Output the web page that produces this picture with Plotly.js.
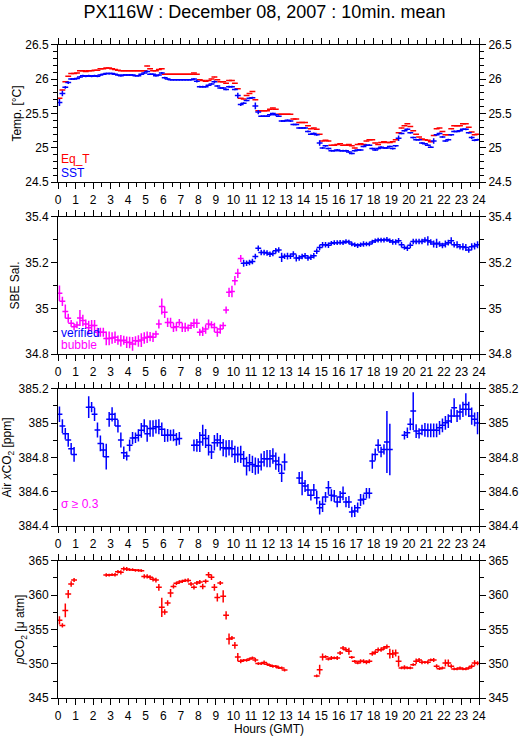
<!DOCTYPE html>
<html>
<head>
<meta charset="utf-8">
<script src="https://cdn.plot.ly/plotly-3.0.1.min.js"></script>
<style>html,body{margin:0;padding:0;background:#fff;}#chart{width:529px;height:739px;}</style>
</head>
<body>
<div id="chart"></div>
<script>
// 10-minute means, centred on each interval (hours GMT)
const hours = Array.from({length: 144}, (_, i) => (i + 0.5) / 6);
const barHalfWidth = 1 / 6;

// Panel 1: temperatures
const eqT = [
25.72,25.84,25.96,26.04,26.08,26.08,26.09,26.12,26.12,26.11,
26.12,26.12,26.13,26.13,26.15,26.15,26.16,26.16,26.15,26.14,
26.13,26.12,26.12,26.12,26.12,26.12,26.12,26.12,26.12,26.12,
26.19,26.15,26.12,26.12,26.14,26.15,26.07,26.07,26.07,26.07,
26.07,26.07,26.07,26.07,26.07,26.07,26.09,26.07,25.99,25.98,
25.97,25.98,26.00,26.03,25.99,25.96,25.96,25.94,25.98,25.98,
25.94,25.86,25.72,25.71,25.76,25.79,25.82,25.70,25.54,25.54,
25.54,25.54,25.56,25.58,25.56,25.49,25.49,25.49,25.49,25.49,
25.42,25.42,25.37,25.37,25.37,25.32,25.28,25.29,25.27,25.20,
25.10,25.11,25.10,25.04,25.04,25.05,25.06,25.04,25.04,25.05,
25.03,25.00,25.05,25.06,25.05,25.10,25.12,25.12,25.07,25.05,
25.08,25.09,25.08,25.08,25.09,25.12,25.22,25.29,25.32,25.35,
25.31,25.25,25.20,25.16,25.13,25.12,25.11,25.09,25.18,25.28,
25.29,25.24,25.19,25.19,25.28,25.32,25.32,25.32,25.35,25.35,
25.30,25.23,25.19,25.20];
const sst = [
25.66,25.79,25.88,25.95,26.00,26.00,26.01,26.03,26.05,26.04,
26.05,26.04,26.05,26.04,26.06,26.07,26.08,26.08,26.08,26.07,
26.06,26.05,26.06,26.06,26.06,26.06,26.05,26.05,26.07,26.09,
26.11,26.07,26.07,26.05,26.06,26.09,26.02,26.00,25.99,25.99,
25.99,25.99,25.99,25.99,25.99,25.99,26.00,25.97,25.89,25.89,
25.89,25.91,25.93,25.96,25.90,25.87,25.87,25.85,25.89,25.89,
25.85,25.76,25.63,25.65,25.69,25.72,25.73,25.61,25.52,25.46,
25.46,25.46,25.48,25.50,25.48,25.46,25.39,25.39,25.40,25.39,
25.34,25.34,25.29,25.29,25.29,25.24,25.20,25.21,25.19,25.07,
25.00,25.03,24.99,24.96,24.96,24.97,24.96,24.96,24.96,24.94,
24.92,24.96,24.97,24.97,25.02,25.04,25.04,24.99,24.97,24.99,
25.01,25.00,25.00,25.02,24.99,25.03,25.14,25.21,25.25,25.27,
25.22,25.15,25.12,25.12,25.07,25.06,25.04,25.01,25.10,25.19,
25.21,25.16,25.10,25.12,25.19,25.24,25.24,25.25,25.27,25.27,
25.22,25.15,25.11,25.12];
const sstErr = [
0.05,0.04,0.02,0.02,0.012,0.012,0.012,0.012,0.012,0.012,
0.012,0.012,0.012,0.012,0.012,0.012,0.012,0.012,0.012,0.012,
0.012,0.012,0.012,0.012,0.012,0.012,0.012,0.012,0.012,0.012,
0.015,0.012,0.012,0.012,0.012,0.012,0.015,0.012,0.012,0.012,
0.012,0.012,0.012,0.012,0.012,0.012,0.012,0.02,0.012,0.012,
0.012,0.012,0.012,0.02,0.012,0.012,0.012,0.012,0.012,0.012,
0.012,0.04,0.02,0.012,0.012,0.012,0.012,0.05,0.03,0.012,
0.012,0.012,0.012,0.012,0.012,0.012,0.012,0.012,0.012,0.012,
0.012,0.012,0.012,0.012,0.012,0.012,0.012,0.012,0.012,0.04,
0.012,0.012,0.012,0.012,0.012,0.012,0.012,0.012,0.012,0.012,
0.012,0.012,0.012,0.012,0.012,0.012,0.012,0.012,0.012,0.012,
0.012,0.012,0.012,0.012,0.012,0.012,0.04,0.012,0.012,0.012,
0.012,0.012,0.012,0.012,0.012,0.012,0.012,0.012,0.04,0.012,
0.012,0.012,0.012,0.012,0.012,0.012,0.012,0.012,0.012,0.012,
0.012,0.02,0.012,0.012];

// Panel 2: SBE salinity (bubble-flagged, then verified)
const salBubble = [
35.066,35.031,34.987,34.957,34.935,34.920,34.928,34.958,34.947,34.932,
34.916,34.925,34.925,34.896,34.896,34.896,34.869,34.869,34.871,34.874,
34.862,34.859,34.861,34.852,34.851,34.845,34.859,34.858,34.862,34.871,
34.874,34.877,34.874,34.888,34.932,35.008,34.983,34.939,34.939,34.917,
34.920,34.939,34.917,34.917,34.915,34.925,34.935,34.935,34.896,34.900,
34.910,34.932,34.929,34.917,34.896,34.910,34.925,34.993,35.070,35.074,
35.121,35.153,35.218];
const salBubbleErr = [
0.034,0.02,0.03,0.02,0.015,0.015,0.015,0.035,0.025,0.02,
0.03,0.025,0.025,0.02,0.02,0.02,0.03,0.03,0.025,0.025,
0.02,0.025,0.02,0.025,0.025,0.03,0.02,0.025,0.03,0.025,
0.025,0.02,0.02,0.015,0.02,0.035,0.025,0.02,0.02,0.02,
0.02,0.015,0.02,0.02,0.015,0.015,0.02,0.02,0.015,0.02,
0.02,0.02,0.015,0.02,0.02,0.02,0.015,0.015,0.02,0.025,
0.02,0.02,0.015];
const salVerified = [
35.197,35.197,35.200,35.205,35.226,35.262,35.244,35.244,
35.242,35.236,35.240,35.252,35.255,35.223,35.228,35.228,35.228,35.237,
35.220,35.220,35.226,35.230,35.220,35.223,35.230,35.249,35.266,35.278,
35.278,35.276,35.284,35.287,35.287,35.288,35.287,35.292,35.290,35.281,
35.278,35.274,35.278,35.281,35.281,35.281,35.290,35.295,35.298,35.298,
35.298,35.301,35.295,35.290,35.290,35.295,35.278,35.266,35.262,35.276,
35.292,35.292,35.292,35.292,35.298,35.295,35.290,35.281,35.284,35.281,
35.275,35.281,35.287,35.295,35.278,35.278,35.269,35.269,35.266,35.255,
35.269,35.272,35.278];
const salVerifiedErr = [
0.015,0.012,0.012,0.012,0.012,0.012,0.012,0.012,
0.012,0.012,0.012,0.012,0.012,0.02,0.012,0.015,0.012,0.012,
0.015,0.012,0.012,0.012,0.012,0.012,0.012,0.012,0.012,0.012,
0.012,0.012,0.01,0.01,0.01,0.01,0.01,0.01,0.01,0.01,
0.01,0.01,0.01,0.012,0.01,0.01,0.01,0.01,0.01,0.01,
0.01,0.01,0.01,0.012,0.012,0.012,0.012,0.01,0.012,0.012,
0.012,0.012,0.012,0.012,0.012,0.02,0.012,0.015,0.02,0.012,
0.012,0.015,0.012,0.015,0.012,0.015,0.012,0.015,0.015,0.012,
0.015,0.015,0.015];

// Panel 3: atmospheric xCO2 (ppm)
const airXCO2 = [
385.051,384.983,384.938,384.902,384.851,384.818,null,null,null,null,
385.093,385.093,385.051,384.960,384.882,384.843,384.805,385.022,385.051,385.022,
384.983,384.902,384.828,384.809,384.871,384.913,384.915,384.929,384.958,384.983,
384.938,384.969,384.969,384.979,384.979,384.964,384.929,384.929,384.929,384.929,
384.905,384.911,null,null,null,null,384.871,384.871,384.890,384.929,
384.911,384.871,384.832,384.886,384.902,384.886,384.857,384.851,384.857,384.851,
384.818,384.818,384.818,384.793,384.750,384.770,384.760,384.750,384.750,384.774,
384.793,384.793,384.793,384.809,384.779,384.760,384.708,384.774,null,null,
null,null,384.681,384.650,384.634,384.611,384.580,384.611,384.566,384.508,
384.528,384.570,384.624,384.580,384.576,384.541,384.570,384.592,384.541,384.541,
384.483,384.489,384.508,384.553,384.557,384.592,384.592,384.779,384.818,384.871,
384.832,384.847,384.890,384.847,null,null,null,null,384.929,384.944,
384.993,385.070,384.954,384.940,384.960,384.960,384.958,384.958,384.958,384.958,
384.973,384.987,385.002,385.012,385.041,385.090,385.041,385.064,385.080,385.109,
385.080,385.041,385.022,385.000];
const airXCO2Err = [
0.045,0.04,0.033,0.04,0.034,0.043,0,0,0,0,
0.063,0.03,0.039,0.044,0.046,0.04,0.075,0.043,0.042,0.039,
0.037,0.044,0.036,0.026,0.034,0.036,0.03,0.036,0.043,0.039,
0.046,0.048,0.048,0.04,0.044,0.039,0.039,0.037,0.032,0.035,
0.037,0.037,0,0,0,0,0.034,0.037,0.058,0.061,
0.055,0.06,0.04,0.045,0.04,0.045,0.05,0.05,0.045,0.05,
0.05,0.045,0.05,0.045,0.055,0.05,0.05,0.05,0.045,0.05,
0.045,0.05,0.05,0.045,0.05,0.045,0.05,0.05,0,0,
0,0,0.035,0.07,0.035,0.035,0.03,0.035,0.04,0.04,
0.045,0.03,0.04,0.035,0.035,0.03,0.035,0.04,0.03,0.035,
0.03,0.035,0.03,0.035,0.03,0.03,0.03,0.045,0.035,0.035,
0.03,0.03,0.18,0.15,0,0,0,0,0.025,0.03,
0.035,0.11,0.04,0.03,0.03,0.04,0.04,0.04,0.04,0.04,
0.04,0.04,0.04,0.04,0.04,0.055,0.035,0.045,0.045,0.065,
0.045,0.05,0.04,0.065];

// Panel 4: seawater pCO2 (uatm)
const pCO2 = [
356.33,355.60,357.78,360.16,361.61,362.19,null,null,null,null,
null,null,null,null,null,null,362.92,362.92,362.97,362.97,
363.40,363.31,363.84,363.79,363.69,363.69,363.60,363.60,363.55,362.72,
362.72,362.58,362.29,362.19,361.13,358.22,357.54,358.85,360.30,361.27,
361.71,361.90,362.00,362.14,362.14,361.61,361.13,361.76,361.90,361.27,
362.00,362.97,362.58,361.13,359.67,361.76,359.82,357.06,353.62,353.77,
352.70,351.00,350.38,350.52,350.52,350.71,350.86,350.55,350.05,350.05,
350.20,349.95,349.79,349.65,349.65,349.45,349.41,349.10,null,null,
null,null,null,null,null,null,null,null,348.24,349.16,
351.00,351.05,350.71,350.86,350.86,350.86,351.59,352.31,352.07,351.83,
350.96,350.38,350.13,350.38,350.38,350.23,350.38,351.49,351.68,352.07,
352.07,352.31,352.51,351.49,351.44,351.59,350.38,349.41,349.50,349.41,
349.41,349.89,350.38,350.57,350.23,350.23,350.23,350.57,350.57,349.65,
349.31,349.41,350.13,350.13,349.65,349.26,349.26,349.41,349.26,349.26,
349.41,349.65,350.13,350.10];
const pCO2Err = [
0.6,0.3,1.0,0.6,0.4,0.3,0,0,0,0,
0,0,0,0,0,0,0.25,0.2,0.2,0.25,
0.25,0.3,0.3,0.3,0.2,0.2,0.2,0.2,0.2,0.3,
0.3,0.3,0.3,0.35,0.5,1.4,0.4,0.4,0.6,0.3,
0.25,0.25,0.25,0.25,0.3,0.3,0.3,0.3,0.3,0.4,
0.3,0.4,0.4,0.5,0.6,0.3,0.9,0.6,0.8,0.3,
0.5,0.6,0.3,0.2,0.2,0.2,0.2,0.3,0.2,0.2,
0.3,0.2,0.2,0.2,0.2,0.2,0.2,0.2,0,0,
0,0,0,0,0,0,0,0,0.2,0.7,
0.5,0.2,0.2,0.3,0.2,0.3,0.3,0.3,0.3,0.5,
0.2,0.2,0.2,0.3,0.3,0.3,0.3,0.3,0.3,0.3,
0.3,0.3,0.3,0.7,0.6,0.5,0.8,0.2,0.3,0.2,
0.2,0.2,0.4,0.3,0.3,0.2,0.3,0.2,0.3,0.3,
0.2,0.2,0.5,0.5,0.3,0.2,0.2,0.2,0.2,0.2,
0.2,0.3,0.4,0.3];

const RED = '#ff0000', BLUE = '#0000ff', MAGENTA = '#ff00ff';
const FONT = 'Liberation Sans, Arial, sans-serif';

function barTrace(x, y, err, color, xa, ya) {
  const t = {
    x: x, y: y, type: 'scatter', mode: 'markers', xaxis: xa, yaxis: ya,
    marker: {size: 1, color: color}, showlegend: false, hoverinfo: 'skip',
    error_x: {type: 'constant', value: barHalfWidth, width: 0, thickness: 1.5, color: color}
  };
  if (err) t.error_y = {type: 'data', array: err, visible: true, width: 0, thickness: 1.5, color: color};
  return t;
}

const data = [
  barTrace(hours, eqT, null, RED, 'x', 'y'),
  barTrace(hours, sst, sstErr, BLUE, 'x', 'y'),
  barTrace(hours.slice(0, salBubble.length), salBubble, salBubbleErr, MAGENTA, 'x2', 'y2'),
  barTrace(hours.slice(salBubble.length), salVerified, salVerifiedErr, BLUE, 'x2', 'y2'),
  barTrace(hours, airXCO2, airXCO2Err, BLUE, 'x3', 'y3'),
  barTrace(hours, pCO2, pCO2Err, RED, 'x4', 'y4')
];

const tickfont = {family: FONT, size: 12, color: '#000'};
function xAxis(anchor) {
  return {
    domain: [0, 1], anchor: anchor, range: [0, 24], tick0: 0, dtick: 1,
    ticks: 'outside', ticklen: 6, tickwidth: 1, tickcolor: '#000',
    showline: true, linecolor: '#000', linewidth: 1, mirror: 'ticks',
    showgrid: false, zeroline: false, tickangle: 0, tickfont: tickfont,
    minor: {dtick: 0.5, ticks: 'outside', ticklen: 4, tickcolor: '#000', showgrid: false}
  };
}
function yAxis(anchor, domain, range, dtick, minor, title, standoff) {
  return {
    domain: domain, anchor: anchor, range: range, tick0: range[0], dtick: dtick,
    ticks: 'outside', ticklen: 6, tickwidth: 1, tickcolor: '#000',
    showline: true, linecolor: '#000', linewidth: 1, mirror: false,
    showgrid: false, zeroline: false, tickfont: tickfont,
    minor: {dtick: minor, ticks: 'outside', ticklen: 4, tickcolor: '#000', showgrid: false},
    title: {text: title, font: {family: FONT, size: 12, color: '#000'}, standoff: standoff}
  };
}
function yRight(anchor, over, range, dtick, minor) {
  return {
    overlaying: over, side: 'right', anchor: anchor, range: range, tick0: range[0], dtick: dtick,
    ticks: 'outside', ticklen: 6, tickwidth: 1, tickcolor: '#000',
    showline: true, linecolor: '#000', linewidth: 1,
    showgrid: false, zeroline: false, tickfont: tickfont,
    minor: {dtick: minor, ticks: 'outside', ticklen: 4, tickcolor: '#000', showgrid: false}
  };
}

const d1 = [0.7889, 0.9989], d2 = [0.5263, 0.7363], d3 = [0.2637, 0.4737], d4 = [0.0011, 0.2111];
const r1 = [24.5, 26.5], r2 = [34.8, 35.4], r3 = [384.4, 385.2], r4 = [345, 365];

function note(text, color, xa, ya, y) {
  return {text: text, xref: xa + ' domain', yref: ya + ' domain', x: 0.002, y: y,
          xanchor: 'left', yanchor: 'middle', showarrow: false,
          font: {family: FONT, size: 12, color: color}};
}

const layout = {
  width: 529, height: 739,
  margin: {l: 58, r: 50, t: 44, b: 40},
  paper_bgcolor: '#fff', plot_bgcolor: '#fff',
  font: {family: FONT, size: 12, color: '#000'},
  title: {text: 'PX116W : December 08, 2007 : 10min. mean', x: 0.5, xref: 'container',
          y: 0.984, yref: 'container', yanchor: 'middle',
          font: {family: FONT, size: 18, color: '#000'}},
  xaxis: xAxis('y'), xaxis2: xAxis('y2'), xaxis3: xAxis('y3'), xaxis4: xAxis('y4'),
  yaxis: yAxis('x', d1, r1, 0.5, 0.1, 'Temp. [°C]', 1),
  yaxis2: yAxis('x2', d2, r2, 0.2, 0.1, 'SBE Sal.', 3),
  yaxis3: yAxis('x3', d3, r3, 0.2, 0.1, 'Air <i>x</i>CO<sub>2</sub> [ppm]', 4),
  yaxis4: yAxis('x4', d4, r4, 5, 2.5, '<i>p</i>CO<sub>2</sub> [μ atm]', 0),
  yaxis5: yRight('x', 'y', r1, 0.5, 0.1),
  yaxis6: yRight('x2', 'y2', r2, 0.2, 0.1),
  yaxis7: yRight('x3', 'y3', r3, 0.2, 0.1),
  yaxis8: yRight('x4', 'y4', r4, 5, 2.5),
  annotations: [
    note('Eq_T', RED, 'x', 'y', 0.17),
    note('SST', BLUE, 'x', 'y', 0.065),
    note('verified', BLUE, 'x2', 'y2', 0.155),
    note('bubble', MAGENTA, 'x2', 'y2', 0.068),
    note('σ ≥ 0.3', MAGENTA, 'x3', 'y3', 0.162),
    {text: 'Hours (GMT)', xref: 'paper', yref: 'paper', x: 0.5, y: -0.046,
     xanchor: 'center', yanchor: 'middle', showarrow: false,
     font: {family: FONT, size: 12, color: '#000'}}
  ]
};

// carrier traces so the right-hand overlay axes are drawn
['y5', 'y6', 'y7', 'y8'].forEach((ya, k) => {
  data.push({x: [null], y: [null], type: 'scatter', mode: 'markers', xaxis: ['x', 'x2', 'x3', 'x4'][k], yaxis: ya,
             showlegend: false, hoverinfo: 'skip'});
});

Plotly.newPlot('chart', data, layout, {staticPlot: true, displayModeBar: false});
</script>
</body>
</html>
